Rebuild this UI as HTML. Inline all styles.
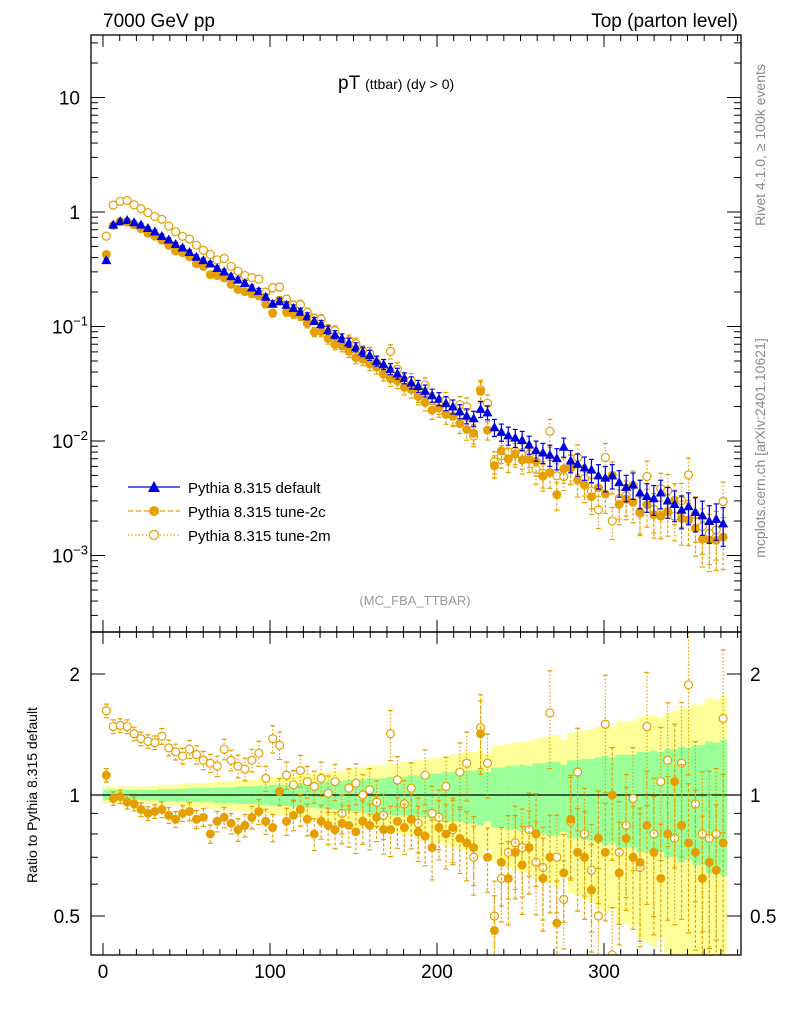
<!DOCTYPE html>
<html><head><meta charset="utf-8">
<style>
body{margin:0;background:#fff;}
svg{display:block;font-family:"Liberation Sans",sans-serif;}
</style></head>
<body>
<svg id="chart" width="786" height="1024" viewBox="0 0 786 1024" xmlns="http://www.w3.org/2000/svg">
<defs>
<clipPath id="cm"><rect x="91" y="35" width="650" height="597"/></clipPath>
<clipPath id="cr"><rect x="91" y="632" width="650" height="323"/></clipPath>
</defs>
<g id="bands" clip-path="url(#cr)"></g>
<g id="ratio" clip-path="url(#cr)"></g>
<g id="main" clip-path="url(#cm)"></g>
<g id="axes"></g>
<text x="103" y="27" font-size="19">7000 GeV pp</text>
<text x="738" y="27" font-size="19" text-anchor="end">Top (parton level)</text>
<text x="338" y="89" font-size="19">pT <tspan font-size="14">(ttbar) (dy &gt; 0)</tspan></text>
<text x="415" y="605" font-size="13" fill="#999" text-anchor="middle">(MC_FBA_TTBAR)</text>
<text transform="translate(765,145) rotate(-90)" font-size="14" fill="#888" text-anchor="middle">Rivet 4.1.0, ≥ 100k events</text>
<text transform="translate(765,448) rotate(-90)" font-size="14" fill="#888" text-anchor="middle">mcplots.cern.ch [arXiv:2401.10621]</text>
<text transform="translate(37,795) rotate(-90)" font-size="14" text-anchor="middle">Ratio to Pythia 8.315 default</text>
<g>
<g>
<line x1="128" y1="487" x2="180" y2="487" stroke="#0000dd" stroke-width="1.2"/>
<polygon points="154,481 160,492 148,492" fill="#0000dd"/>
<text x="188" y="493" font-size="15">Pythia 8.315 default</text></g>
<g>
<line x1="128" y1="511" x2="180" y2="511" stroke="#e69f00" stroke-width="1.2" stroke-dasharray="5,3"/>
<circle cx="154" cy="511" r="5" fill="#e69f00"/>
<text x="188" y="517" font-size="15">Pythia 8.315 tune-2c</text></g>
<g>
<line x1="128" y1="535" x2="180" y2="535" stroke="#e69f00" stroke-width="1.2" stroke-dasharray="1.5,2"/>
<circle cx="154" cy="535" r="4.5" fill="#fff" stroke="#e69f00" stroke-width="1.2"/>
<text x="188" y="541" font-size="15">Pythia 8.315 tune-2m</text></g>
</g>
</svg>
<script>
const binWidth=4.15;
const binCenters=[];for(let i=0;i<90;i++)binCenters.push(2+binWidth*i);
const defaultVals=[0.38,0.776,0.832,0.851,0.813,0.776,0.724,0.676,0.617,0.575,0.525,0.490,0.447,0.407,0.380,0.355,0.324,0.302,0.275,0.257,0.240,0.219,0.204,0.182,0.158,0.166,0.155,0.145,0.135,0.123,0.112,0.105,0.0933,0.0851,0.0794,0.0724,0.0661,0.0603,0.0562,0.0501,0.0468,0.0427,0.0389,0.0355,0.0324,0.0302,0.0275,0.0251,0.0234,0.0214,0.0200,0.0182,0.0166,0.0158,0.0191,0.0178,0.0132,0.0120,0.0112,0.0107,0.0102,0.00933,0.00832,0.00794,0.00759,0.00708,0.00891,0.00676,0.00631,0.00589,0.00562,0.00501,0.00479,0.00501,0.00437,0.00398,0.00417,0.00355,0.00331,0.00316,0.00355,0.00302,0.00282,0.00251,0.00269,0.00240,0.00224,0.00200,0.00209,0.00191];
const ratio2c=[1.12,0.98,0.99,0.96,0.95,0.92,0.90,0.91,0.92,0.89,0.87,0.90,0.91,0.87,0.88,0.80,0.86,0.88,0.85,0.82,0.84,0.88,0.91,0.86,0.83,1.02,0.86,0.89,0.92,0.87,0.80,0.86,0.84,0.82,0.85,0.84,0.81,0.86,0.84,0.88,0.82,0.82,0.86,0.83,0.87,0.81,0.79,0.74,0.83,0.80,0.83,0.78,0.76,0.74,1.42,0.70,0.46,0.68,0.62,0.72,0.67,0.74,0.80,0.62,0.70,0.48,0.64,0.87,0.72,0.70,0.58,0.78,0.72,1.00,0.64,0.78,0.70,0.68,0.84,0.72,0.62,0.80,1.08,0.84,0.76,0.72,0.62,0.68,0.65,0.76];
const ratio2m=[1.62,1.48,1.49,1.48,1.42,1.38,1.36,1.35,1.40,1.31,1.28,1.25,1.30,1.26,1.22,1.20,1.18,1.30,1.22,1.18,1.16,1.22,1.27,1.10,1.38,1.33,1.12,1.06,1.15,1.08,1.05,1.10,1.01,1.08,0.90,1.04,1.07,1.00,1.03,0.96,0.89,1.42,1.09,0.95,1.04,0.85,1.12,0.90,0.88,1.05,0.82,1.14,1.20,0.70,1.47,1.20,0.50,0.62,0.72,0.76,0.74,0.82,0.68,0.66,1.60,0.70,0.55,0.86,1.14,0.80,0.65,0.50,1.50,0.40,0.72,0.84,0.98,0.66,1.48,0.80,1.08,1.22,0.78,1.20,1.88,0.95,0.80,0.78,0.80,1.55];
const greenErr=[0.03,0.03,0.03,0.03,0.03,0.03,0.03,0.03,0.035,0.035,0.035,0.035,0.04,0.04,0.04,0.04,0.045,0.045,0.045,0.05,0.05,0.05,0.055,0.055,0.06,0.06,0.06,0.065,0.07,0.07,0.07,0.075,0.08,0.08,0.085,0.09,0.09,0.095,0.10,0.10,0.10,0.11,0.11,0.11,0.12,0.12,0.12,0.13,0.13,0.14,0.14,0.14,0.15,0.15,0.16,0.14,0.17,0.17,0.18,0.18,0.19,0.18,0.20,0.20,0.21,0.21,0.19,0.22,0.22,0.23,0.23,0.24,0.25,0.24,0.26,0.26,0.26,0.28,0.28,0.29,0.28,0.30,0.30,0.32,0.31,0.33,0.33,0.36,0.35,0.37];
const yellowErr=[0.05,0.05,0.05,0.05,0.05,0.05,0.05,0.055,0.06,0.06,0.06,0.065,0.07,0.07,0.07,0.075,0.08,0.08,0.085,0.09,0.09,0.09,0.10,0.10,0.11,0.11,0.11,0.12,0.12,0.13,0.13,0.14,0.14,0.15,0.15,0.16,0.17,0.17,0.18,0.18,0.19,0.20,0.20,0.21,0.21,0.22,0.23,0.24,0.24,0.25,0.26,0.27,0.28,0.28,0.30,0.27,0.32,0.33,0.34,0.35,0.36,0.36,0.38,0.39,0.40,0.41,0.37,0.43,0.44,0.45,0.46,0.48,0.49,0.48,0.52,0.52,0.53,0.56,0.57,0.58,0.56,0.60,0.62,0.66,0.64,0.68,0.68,0.74,0.72,0.76];
const xTicks=[0,100,200,300];
const NS="http://www.w3.org/2000/svg";
const X=v=>103+v*1.67;
const Ym=v=>212-114.5*Math.log10(v);
const Yr=r=>795-121*Math.log2(r);
function mk(parent,tag,attrs){const e=document.createElementNS(NS,tag);for(const k in attrs)e.setAttribute(k,attrs[k]);document.getElementById(parent).appendChild(e);return e;}
const BLUE="#0000dd",ORG="#e69f00";
binCenters.forEach((c,i)=>{
  const x0=X(c-binWidth/2),w=X(c+binWidth/2)-x0;
  let e=mk('bands','rect',{x:x0,y:Yr(1+yellowErr[i]),width:w+0.3,height:Yr(Math.max(1-yellowErr[i],0.05))-Yr(1+yellowErr[i]),fill:'#ffff99'});
  
  
  e=mk('bands','rect',{x:x0,y:Yr(1+greenErr[i]),width:w+0.3,height:Yr(1-greenErr[i])-Yr(1+greenErr[i]),fill:'#99ff99'});
  
  
});
let rl=mk('ratio','line',{x1:91,x2:741,y1:Yr(1),y2:Yr(1),stroke:'#000','stroke-width':1.2});


function errbar(g,x,y1,y2,dash,col){const l=mk(g,'line',{x1:x,x2:x,y1:y1,y2:y2,stroke:col,'stroke-width':1.2});if(dash)l.setAttribute('stroke-dasharray',dash);
  mk(g,'line',{x1:x-2.5,x2:x+2.5,y1:y1,y2:y1,stroke:col,'stroke-width':1.2});mk(g,'line',{x1:x-2.5,x2:x+2.5,y1:y2,y2:y2,stroke:col,'stroke-width':1.2});}
binCenters.forEach((c,i)=>{
  const x=X(c),d=defaultVals[i],e=greenErr[i];
  const v2c=d*ratio2c[i],v2m=d*ratio2m[i],e2=e*1.3;
  errbar('main',x,Ym(v2m*(1+e2)),Ym(v2m*(1-e2)),'1.5,2',ORG);
  let m=mk('main','circle',{cx:x,cy:Ym(v2m),r:4,fill:'#fff',stroke:ORG,'stroke-width':1.2});
  
  
  errbar('main',x,Ym(v2c*(1+e2)),Ym(v2c*(1-e2)),'3,2',ORG);
  m=mk('main','circle',{cx:x,cy:Ym(v2c),r:4.5,fill:ORG});
  
  
  errbar('main',x,Ym(d*(1+e)),Ym(d*(1-e)),null,BLUE);
  const y=Ym(d);
  m=mk('main','polygon',{points:`${x},${y-5} ${x+5},${y+4} ${x-5},${y+4}`,fill:BLUE});
  
  
  errbar('ratio',x,Yr(ratio2m[i]*(1+e2)),Yr(Math.max(ratio2m[i]*(1-e2),0.05)),'1.5,2',ORG);
  m=mk('ratio','circle',{cx:x,cy:Yr(ratio2m[i]),r:4,fill:'#fff',stroke:ORG,'stroke-width':1.2});
  
  
  errbar('ratio',x,Yr(ratio2c[i]*(1+e2)),Yr(Math.max(ratio2c[i]*(1-e2),0.05)),'3,2',ORG);
  m=mk('ratio','circle',{cx:x,cy:Yr(ratio2c[i]),r:4.5,fill:ORG});
  
  
});
[[35,597],[632,323]].forEach(([y,h])=>{const f=mk('axes','rect',{x:91,y:y,width:650,height:h,fill:'none',stroke:'#000','stroke-width':1.3});
  
  });
for(let v=0;v<=380;v+=10){const x=X(v),L=v%100===0?12:6;
  [[35,1],[632,-1],[632,1],[955,-1]].forEach(([y,s])=>mk('axes','line',{x1:x,x2:x,y1:y,y2:y+s*L,stroke:'#000'}));}
xTicks.forEach(v=>{const t=mk('axes','text',{x:X(v),y:978,'font-size':19,'text-anchor':'middle'});t.textContent=v;
  
  });
for(let p=-4;p<=1;p++)for(let k=1;k<10;k++){const v=k*Math.pow(10,p),y=Ym(v);if(y<35||y>632)continue;const L=k===1?14:7;
  mk('axes','line',{x1:91,x2:91+L,y1:y,y2:y,stroke:'#000'});mk('axes','line',{x1:741,x2:741-L,y1:y,y2:y,stroke:'#000'});
  if(k===1){const t=mk('axes','text',{x:80,y:y+7,'font-size':19,'text-anchor':'end'});
    
    
    if(p>=0)t.textContent=p===1?"10":"1";else{t.textContent="10";const ts=document.createElementNS(NS,'tspan');ts.setAttribute('dy','-8');ts.setAttribute('font-size','13');ts.textContent="−"+(-p);t.appendChild(ts);t.setAttribute('x',88);}}}
[0.5,0.6,0.7,0.8,0.9,1,2].forEach(v=>{const y=Yr(v),L=(v===0.5||v===1||v===2)?14:7;
  mk('axes','line',{x1:91,x2:91+L,y1:y,y2:y,stroke:'#000'});mk('axes','line',{x1:741,x2:741-L,y1:y,y2:y,stroke:'#000'});
  if(L===14){const t=mk('axes','text',{x:80,y:y+7,'font-size':19,'text-anchor':'end'});t.textContent=v;
    
    
    const t2=mk('axes','text',{x:750,y:y+7,'font-size':19});t2.textContent=v;
    
    }});
</script>
</body></html>
